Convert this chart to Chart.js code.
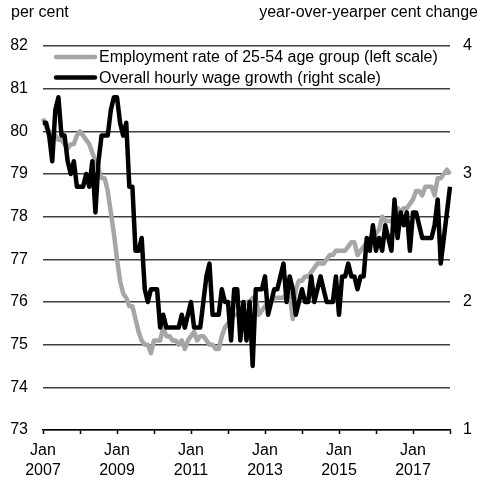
<!DOCTYPE html>
<html>
<head>
<meta charset="utf-8">
<script src="https://cdn.jsdelivr.net/npm/chart.js@4.4.1/dist/chart.umd.min.js"></script>
<style>
  html, body { margin: 0; padding: 0; background: #fff; }
  #wrap { width: 485px; height: 485px; }
</style>
</head>
<body>
<div id="wrap"><canvas id="chart" width="485" height="485"></canvas></div>
<script>
// monthly, Jan 2007 .. Jan 2018
const monthNames = ['Jan','Feb','Mar','Apr','May','Jun','Jul','Aug','Sep','Oct','Nov','Dec'];
const months = [];
for (let y = 2007; y <= 2018; y++) {
    for (let m = 0; m < 12; m++) {
        if (months.length < 133) months.push(monthNames[m] + ' ' + y);
    }
}

// employment rate of 25-54 age group, per cent (left scale)
const employmentRate = [
    80.3, 80.1, 80.0, 79.9, 79.9, 79.8, 79.8, 79.7, 79.6, 79.7, 79.7, 79.9,
    80.0, 79.9, 79.8, 79.7, 79.5, 79.3, 79.1, 78.9, 78.9, 78.6, 78.1, 77.6,
    77.0, 76.5, 76.2, 76.1, 75.9, 75.9, 75.6, 75.3, 75.1, 75.0, 75.0, 74.8,
    75.1, 75.1, 75.1, 75.4, 75.2, 75.2, 75.1, 75.1, 75.0, 75.1, 74.9, 75.1,
    75.2, 75.3, 75.1, 75.2, 75.2, 75.1, 75.0, 75.0, 74.9, 74.9, 75.2, 75.4,
    75.5, 75.6, 75.7, 75.7, 75.8, 75.9, 76.0, 76.0, 76.1, 76.1, 75.7, 75.8,
    75.9, 76.0, 76.0, 76.1, 76.1, 76.1, 76.1, 76.2, 76.2, 75.6, 76.3, 76.5,
    76.5, 76.6, 76.6, 76.7, 76.8, 76.9, 76.9, 76.9, 77.0, 77.1, 77.1, 77.2,
    77.2, 77.2, 77.2, 77.3, 77.4, 77.4, 77.1, 77.2, 77.3, 77.4, 77.5, 77.5,
    77.6, 77.7, 78.0, 77.9, 77.9, 77.9, 78.0, 78.2, 78.1, 78.2, 78.2, 78.3,
    78.4, 78.6, 78.6, 78.5, 78.7, 78.7, 78.7, 78.5, 78.9, 78.9, 79.0, 79.1,
    79.0
];

// overall hourly wage growth, y/y per cent change (right scale)
const wageGrowth = [
    3.4, 3.4, 3.3, 3.1, 3.5, 3.6, 3.3, 3.3, 3.1, 3.0, 3.1, 2.9,
    2.9, 2.9, 3.0, 2.9, 3.1, 2.7, 3.1, 3.3, 3.3, 3.3, 3.5, 3.6,
    3.6, 3.4, 3.3, 3.4, 2.9, 2.9, 2.4, 2.4, 2.5, 2.1, 2.0, 2.1,
    2.1, 2.1, 1.8, 1.9, 1.8, 1.8, 1.8, 1.8, 1.8, 1.9, 1.8, 1.9,
    2.0, 1.8, 1.8, 1.8, 2.0, 2.2, 2.3, 1.9, 1.9, 1.9, 2.1, 2.0,
    2.0, 1.7, 2.1, 2.1, 1.7, 2.0, 1.7, 2.0, 1.5, 2.1, 2.1, 2.1,
    2.2, 1.9, 2.0, 2.1, 2.1, 2.2, 2.3, 2.0, 2.2, 2.1, 1.9, 2.0,
    2.1, 2.0, 2.0, 2.2, 2.0, 2.1, 2.2, 2.1, 2.0, 2.0, 2.0, 2.2,
    1.9, 2.2, 2.2, 2.3, 2.2, 2.2, 2.1, 2.2, 2.2, 2.5, 2.4, 2.6,
    2.4, 2.5, 2.4, 2.6, 2.5, 2.4, 2.8, 2.5, 2.7, 2.6, 2.7, 2.4,
    2.7, 2.7, 2.6, 2.5, 2.5, 2.5, 2.5, 2.6, 2.8, 2.3, 2.5, 2.7,
    2.9
];

const leftTitle = 'per cent';
const rightTitle = 'year-over-yearper cent change';
const seriesNames = ['Employment rate of 25-54 age group (left scale)', 'Overall hourly wage growth (right scale)'];
const seriesColors = ['#a6a6a6', '#000000'];

const FONT = "'Liberation Sans', Arial, sans-serif";

const decorations = {
    id: 'decorations',
    afterDatasetsDraw(chart) {
        const ctx = chart.ctx;
        ctx.save();
        ctx.fillStyle = '#000';
        ctx.font = '16px ' + FONT;
        ctx.textBaseline = 'alphabetic';
        ctx.textAlign = 'left';
        ctx.fillText(leftTitle, 11, 17);
        ctx.textAlign = 'right';
        ctx.fillText(rightTitle, 478, 17);

        // legend inside the plot
        ctx.textAlign = 'left';
        ctx.textBaseline = 'middle';
        const rows = [57, 77.5];
        seriesNames.forEach((name, i) => {
            ctx.strokeStyle = seriesColors[i];
            ctx.lineWidth = 4.5;
            ctx.lineCap = 'round';
            ctx.beginPath();
            ctx.moveTo(56, rows[i]);
            ctx.lineTo(95, rows[i]);
            ctx.stroke();
            ctx.fillText(name, 99, rows[i] + 1);
        });
        ctx.restore();
    }
};

new Chart(document.getElementById('chart').getContext('2d'), {
    type: 'line',
    data: {
        labels: months,
        datasets: [
            {
                label: seriesNames[0],
                data: employmentRate,
                yAxisID: 'yLeft',
                borderColor: seriesColors[0],
                borderWidth: 4.5,
                pointRadius: 0,
                tension: 0,
                borderJoinStyle: 'round',
                order: 2
            },
            {
                label: seriesNames[1],
                data: wageGrowth,
                yAxisID: 'yRight',
                borderColor: seriesColors[1],
                borderWidth: 4.5,
                pointRadius: 0,
                tension: 0,
                borderJoinStyle: 'round',
                order: 1
            }
        ]
    },
    options: {
        responsive: false,
        animation: false,
        layout: { padding: { top: 46, left: 0, right: 0, bottom: 0 } },
        plugins: {
            legend: { display: false },
            tooltip: { enabled: false }
        },
        scales: {
            x: {
                type: 'category',
                offset: false,
                afterFit: s => { s.height = 55; },
                grid: {
                    drawOnChartArea: false,
                    drawTicks: true,
                    tickLength: 4,
                    tickWidth: 1.5,
                    tickColor: c => (months[c.index] || '').startsWith('Jan') ? '#000' : 'rgba(0,0,0,0)'
                },
                border: { display: true, color: '#000', width: 1.5 },
                ticks: {
                    autoSkip: false,
                    maxRotation: 0,
                    minRotation: 0,
                    padding: 7,
                    color: '#000',
                    font: { family: FONT, size: 16, lineHeight: 1.25 },
                    callback: (value, index) => {
                        const parts = months[index].split(' ');
                        if (parts[0] === 'Jan' && (parts[1] - 2007) % 2 === 0) return [parts[0], parts[1]];
                        return '';
                    }
                }
            },
            yLeft: {
                position: 'left',
                min: 73,
                max: 82,
                afterFit: s => { s.width = 43; },
                grid: { color: '#404040', lineWidth: 1.5, drawTicks: false },
                border: { display: false },
                ticks: {
                    stepSize: 1,
                    padding: 15,
                    color: '#000',
                    font: { family: FONT, size: 16 }
                }
            },
            yRight: {
                position: 'right',
                min: 1,
                max: 4,
                afterFit: s => { s.width = 35; },
                grid: { drawOnChartArea: false, drawTicks: false },
                border: { display: false },
                ticks: {
                    stepSize: 1,
                    padding: 13,
                    color: '#000',
                    font: { family: FONT, size: 16 }
                }
            }
        }
    },
    plugins: [decorations]
});
</script>
</body>
</html>
